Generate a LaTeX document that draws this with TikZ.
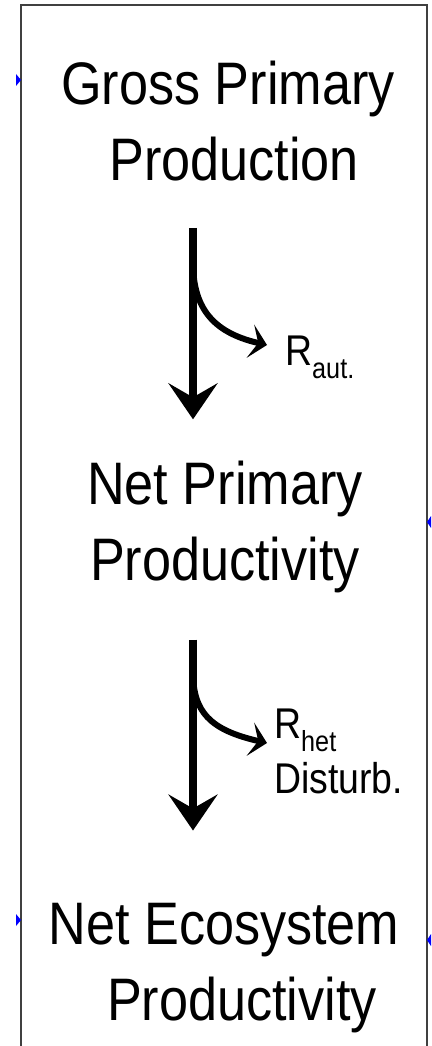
\documentclass[tikz,border=0pt]{standalone}
\usepackage{fontspec}
\setmainfont{Liberation Sans}[FakeStretch=0.87]
\usetikzlibrary{arrows.meta,positioning,calc}

\newcommand{\lowsub}[1]{\raisebox{-13pt}{\fontsize{29pt}{29pt}\selectfont #1}}

\begin{document}
\begin{tikzpicture}[
        x=1pt, y=-1pt,
        title/.style={
            align=center,
            inner sep=0pt,
            anchor=base,
            font=\fontsize{60pt}{76pt}\selectfont
        },
        lossnote/.style={
            align=left,
            inner sep=0pt,
            anchor=base west,
            font=\fontsize{43pt}{55pt}\selectfont
        },
        flow/.style={-{Stealth[length=36pt,width=49pt,inset=14pt]}, line width=8pt},
        branch/.style={-{Stealth[length=17pt,width=34pt,inset=8pt]}, line width=6pt},
        port/.style={fill=blue, draw=none}
    ]
        \useasboundingbox (0,0) rectangle (431,1046);

        % frame
        \draw[line width=2pt, black!75] (21,1046) -- (21,5) -- (427,5) -- (427,1046);
        \fill[port] (16,74) -- (21,80) -- (16,86) -- cycle;
        \fill[port] (16,914) -- (21,920) -- (16,926) -- cycle;
        \fill[port] (431,516) -- (427,522) -- (431,528) -- cycle;
        \fill[port] (431,934) -- (427,940) -- (431,946) -- cycle;

        \node[title] (gpp) at (228,180) {Gross Primary\\\hspace*{12pt}Production};
        \node[title] (npp) at (225,580) {Net Primary\\Productivity};
        \node[title] (nep) at (224,1020) {Net Ecosystem\\\hspace*{36pt}Productivity};

        \node[lossnote] (raut) at (285,365) {R\lowsub{aut.}};
        \node[lossnote] (rhet) at (274,793) {R\lowsub{het}\\Disturb.};

        \coordinate (axis) at (193,0);
        \coordinate (split1) at (193,262);
        \coordinate (split2) at (193,672);

        \draw[flow, shorten <=47pt, shorten >=41pt] (gpp.south -| axis) -- (npp.north -| axis);
        \draw[flow, shorten <=47pt, shorten >=72pt] (npp.south -| axis) -- (nep.north -| axis);

        \draw[branch] (split1) .. controls +(0,43) and +(-57,-13) .. ([shift={(-18,-20)}]raut.base west);
        \draw[branch] (split2) .. controls +(0,40) and +(-57,-13) .. ([shift={(-7,-50)}]rhet.base west);
    \end{tikzpicture}
\end{document}
